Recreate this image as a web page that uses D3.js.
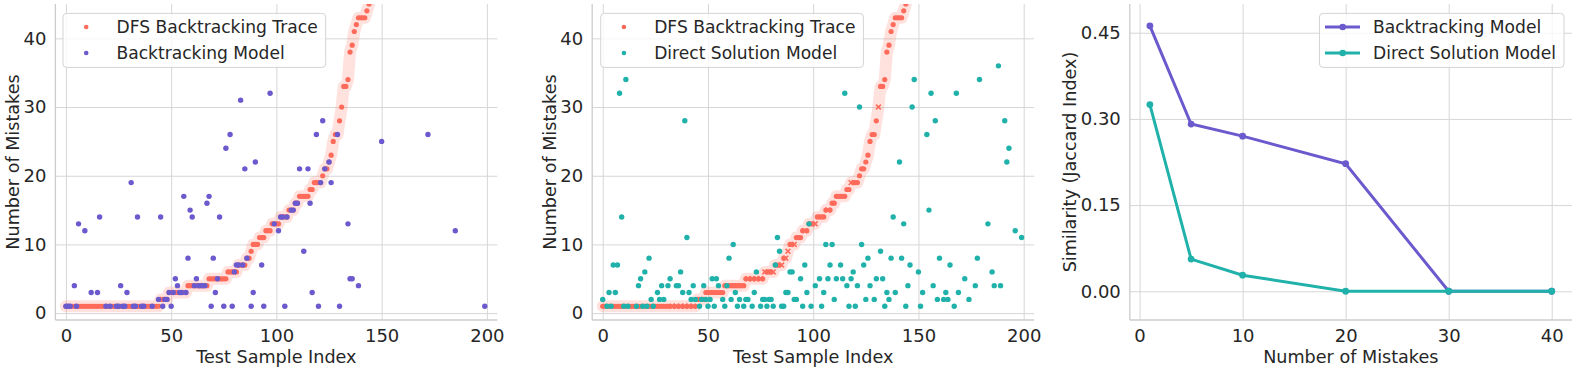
<!DOCTYPE html>
<html>
<head>
<meta charset="utf-8">
<script src="https://cdn.jsdelivr.net/npm/d3@7"></script>
<style>
  body { margin: 0; background: #fff; }
  svg { display: block; }
  text { font-family: 'DejaVu Sans', sans-serif; fill: #262626; }
</style>
</head>
<body>
<svg id="chart" width="1577" height="372"></svg>
<script>
// DFS backtracking trace, sorted, one value per test sample (values above 45 run off the axis)
const traceValues = [
  1, 1, 1, 1, 1, 1, 1, 1, 1, 1, 1, 1, 1, 1, 1, 1, 1, 1, 1, 1,
  1, 1, 1, 1, 1, 1, 1, 1, 1, 1, 1, 1, 1, 1, 1, 1, 1, 1, 1, 1,
  1, 1, 1, 1, 1, 2, 2, 2, 2, 3, 3, 3, 3, 3, 3, 3, 3, 3, 4, 4,
  4, 4, 4, 4, 4, 4, 4, 4, 5, 5, 5, 5, 5, 5, 5, 5, 5, 6, 6, 6,
  6, 6, 7, 7, 7, 7, 8, 8, 9, 10, 10, 10, 11, 11, 11, 12, 12, 12, 13, 13,
  13, 13, 14, 14, 14, 14, 15, 15, 15, 16, 16, 17, 17, 17, 17, 17, 18, 18, 19, 19,
  19, 19, 20, 21, 21, 22, 23, 25, 26, 26, 28, 30, 33, 33, 34, 38, 39, 41, 42, 43,
  43, 43, 43, 44, 45, 47, 49, 52, 55, 59, 63
]
// trace samples drawn with an x marker in the second panel
const traceCrossIdx = [33, 35, 37, 39, 41, 43, 69, 71, 73, 75, 77, 81, 85, 87, 88, 91, 96, 101, 107, 118, 131]

// Backtracking model: sample index / number of mistakes
const backtrackIdx = [
  0, 1, 2, 4, 5, 6, 9, 12, 15, 16, 19, 21, 24, 25, 26, 27, 28, 29, 31, 32,
  33, 34, 36, 37, 41, 44, 45, 46, 47, 48, 49, 50, 51, 52, 53, 54, 55, 56, 57, 58,
  59, 60, 61, 62, 63, 64, 65, 66, 67, 68, 69, 70, 71, 72, 73, 75, 76, 78, 79, 80,
  81, 82, 83, 84, 85, 86, 88, 89, 90, 93, 94, 97, 99, 101, 102, 103, 104, 105, 107, 108,
  109, 110, 111, 113, 115, 116, 117, 119, 120, 121, 122, 123, 125, 126, 129, 130, 134, 135, 136, 139,
  150, 172, 185, 199
]
const backtrackVal = [
  1, 1, 1, 4, 1, 13, 12, 3, 3, 14, 1, 1, 1, 1, 4, 1, 1, 3, 19, 1,
  1, 14, 1, 1, 1, 2, 14, 1, 2, 2, 3, 1, 3, 5, 4, 3, 3, 17, 3, 8,
  15, 14, 4, 5, 4, 4, 4, 4, 16, 17, 1, 8, 3, 5, 14, 1, 24, 26, 1, 6,
  7, 7, 31, 7, 21, 8, 1, 3, 22, 7, 1, 32, 13, 12, 14, 14, 1, 14, 15, 15,
  16, 16, 21, 9, 21, 16, 3, 26, 1, 19, 28, 21, 22, 19, 26, 1, 13, 5, 5, 4,
  25, 26, 12, 1
]

// Direct solution model: sample index / number of mistakes
const directIdx = [
  0, 2, 3, 4, 5, 6, 7, 8, 9, 10, 11, 12, 16, 17, 18, 19, 20, 21, 22, 23,
  24, 26, 27, 28, 29, 31, 32, 35, 36, 37, 38, 39, 40, 41, 42, 43, 44, 46, 47, 48,
  49, 50, 51, 52, 53, 54, 55, 57, 58, 59, 60, 61, 62, 63, 64, 65, 67, 68, 69, 71,
  72, 73, 75, 76, 77, 78, 79, 80, 81, 82, 83, 84, 85, 86, 87, 88, 89, 90, 91, 92,
  94, 95, 96, 97, 98, 99, 101, 103, 104, 105, 106, 107, 108, 109, 110, 111, 113, 114, 115, 116,
  117, 118, 119, 120, 121, 122, 123, 124, 125, 126, 127, 129, 130, 132, 133, 134, 135, 136, 137, 138,
  139, 141, 142, 143, 144, 145, 146, 147, 148, 150, 151, 152, 154, 155, 156, 157, 158, 159, 160, 162,
  163, 164, 165, 167, 168, 169, 172, 174, 177, 178, 179, 183, 185, 186, 188, 189, 191, 192, 193, 196,
  199
]
const directVal = [
  2, 1, 3, 1, 7, 3, 7, 32, 14, 1, 34, 1, 1, 4, 5, 1, 6, 1, 8, 2,
  1, 3, 2, 4, 2, 4, 5, 4, 4, 6, 3, 28, 11, 3, 2, 4, 2, 1, 2, 4,
  2, 1, 2, 5, 1, 5, 4, 2, 1, 4, 8, 2, 10, 3, 1, 2, 1, 2, 2, 1,
  3, 6, 1, 2, 2, 1, 2, 2, 1, 7, 11, 9, 1, 1, 3, 3, 6, 6, 2, 2,
  5, 1, 7, 3, 13, 1, 4, 5, 1, 3, 10, 5, 7, 10, 2, 5, 7, 5, 32, 4,
  1, 5, 6, 1, 4, 30, 10, 7, 2, 8, 4, 2, 5, 9, 5, 1, 3, 2, 8, 14,
  3, 22, 8, 13, 1, 4, 7, 30, 34, 6, 1, 3, 26, 15, 32, 4, 28, 2, 8, 2,
  3, 2, 7, 1, 32, 3, 5, 2, 4, 8, 34, 13, 6, 4, 36, 4, 28, 22, 24, 12,
  11
]

// Similarity vs number of mistakes
const mistakeLevels = [1, 5, 10, 20, 30, 40]
const backtrackSim = [0.462, 0.291, 0.270, 0.222, 0.0, 0.0]
const directSim = [0.325, 0.056, 0.028, 0.0, 0.0, 0.0]

const RED = '#ff6b5b'
const PURPLE = '#6a5acd'
const TEAL = '#20b2aa'
const TOP = 4
const BOTTOM = 320
const W = 442
const TICK_FONT = '18px'
const LABEL_FONT = '17.6px'
const LEGEND_FONT = '17.1px'

const svg = d3.select('#chart')

function makePanel (opt) {
  const g = svg.append('g')
  const x = d3.scaleLinear().domain(opt.xDomain).range([opt.left, opt.left + W])
  const y = d3.scaleLinear().domain(opt.yDomain).range([BOTTOM, TOP])

  // grid
  g.append('g')
    .attr('transform', `translate(0,${BOTTOM})`)
    .call(d3.axisBottom(x).tickValues(opt.xTicks).tickSize(-(BOTTOM - TOP)).tickFormat(''))
  g.append('g')
    .attr('transform', `translate(${opt.left},0)`)
    .call(d3.axisLeft(y).tickValues(opt.yTicks).tickSize(-W).tickFormat(''))
  g.selectAll('.domain').remove()
  g.selectAll('.tick line').attr('stroke', '#d6d6d6').attr('stroke-width', 1)

  // spines (left + bottom only)
  g.append('line')
    .attr('x1', opt.left).attr('x2', opt.left)
    .attr('y1', TOP).attr('y2', BOTTOM)
    .attr('stroke', '#cccccc').attr('stroke-width', 1.3)
  g.append('line')
    .attr('x1', opt.left).attr('x2', opt.left + W)
    .attr('y1', BOTTOM).attr('y2', BOTTOM)
    .attr('stroke', '#cccccc').attr('stroke-width', 1.3)

  // tick labels
  const xa = g.append('g')
    .attr('transform', `translate(0,${BOTTOM})`)
    .call(d3.axisBottom(x).tickValues(opt.xTicks).tickSize(0).tickPadding(9))
  const ya = g.append('g')
    .attr('transform', `translate(${opt.left},0)`)
    .call(d3.axisLeft(y).tickValues(opt.yTicks).tickSize(0).tickPadding(9).tickFormat(opt.yFormat || d3.format('d')))
  for (const a of [xa, ya]) {
    a.select('.domain').remove()
    a.selectAll('text')
      .attr('fill', '#262626')
      .style('font-size', TICK_FONT)
      .style('font-family', "'DejaVu Sans', sans-serif")
  }

  // axis labels
  g.append('text')
    .attr('x', opt.left + W / 2).attr('y', 363)
    .attr('text-anchor', 'middle')
    .style('font-size', LABEL_FONT)
    .text(opt.xLabel)
  g.append('text')
    .attr('transform', `translate(${opt.left - opt.yLabelGap},${(TOP + BOTTOM) / 2}) rotate(-90)`)
    .attr('text-anchor', 'middle')
    .style('font-size', LABEL_FONT)
    .text(opt.yLabel)

  const clipId = 'clip' + Math.round(opt.left)
  svg.append('clipPath').attr('id', clipId)
    .append('rect')
    .attr('x', opt.left).attr('y', TOP)
    .attr('width', W).attr('height', BOTTOM - TOP)
  const plot = svg.append('g').attr('clip-path', `url(#${clipId})`)
  return { x, y, plot }
}

function drawTrace (p, crosses) {
  const pts = traceValues.map((v, i) => [i, v])
  p.plot.append('path')
    .datum(pts)
    .attr('d', d3.line().x(d => p.x(d[0])).y(d => p.y(d[1])))
    .attr('fill', 'none')
    .attr('stroke', RED)
    .attr('stroke-opacity', 0.2)
    .attr('stroke-width', 12)
    .attr('stroke-linecap', 'round')
    .attr('stroke-linejoin', 'round')
  const dots = pts.filter(d => !crosses.includes(d[0]))
  p.plot.selectAll(null).data(dots).enter()
    .append('circle')
    .attr('cx', d => p.x(d[0]))
    .attr('cy', d => p.y(d[1]))
    .attr('r', 2.6)
    .attr('fill', RED)
  const xs = pts.filter(d => crosses.includes(d[0]))
  p.plot.selectAll(null).data(xs).enter()
    .append('path')
    .attr('d', d => {
      const cx = p.x(d[0]); const cy = p.y(d[1]); const s = 2.4
      return `M${cx - s},${cy - s}L${cx + s},${cy + s}M${cx - s},${cy + s}L${cx + s},${cy - s}`
    })
    .attr('stroke', RED)
    .attr('stroke-width', 1.6)
}

function drawScatter (p, idx, val, color) {
  p.plot.selectAll(null).data(idx.map((d, i) => [d, val[i]])).enter()
    .append('circle')
    .attr('cx', d => p.x(d[0]))
    .attr('cy', d => p.y(d[1]))
    .attr('r', 2.7)
    .attr('fill', color)
}

function legend (boxLeft, entries, kind, alignRight) {
  const g = svg.append('g')
  const box = g.append('rect')
  const texts = entries.map((e, i) => {
    const cy = 27 + i * 26
    if (kind === 'line') {
      g.append('line')
        .attr('x1', 6).attr('x2', 41).attr('y1', cy).attr('y2', cy)
        .attr('stroke', e.color).attr('stroke-width', 3)
      g.append('circle').attr('cx', 23.7).attr('cy', cy).attr('r', 3.3).attr('fill', e.color)
    } else {
      g.append('circle').attr('cx', 23.7).attr('cy', cy).attr('r', 2.3).attr('fill', e.color)
    }
    return g.append('text')
      .attr('x', 54).attr('y', cy).attr('dy', '0.35em')
      .style('font-size', LEGEND_FONT)
      .text(e.label)
  })
  const tw = d3.max(texts, t => t.node().getComputedTextLength())
  const bw = 54 + tw + 7.5
  box.attr('x', 0.5).attr('y', 13.4).attr('width', bw).attr('height', 54)
    .attr('rx', 3.5)
    .attr('fill', '#fff').attr('fill-opacity', 0.8)
    .attr('stroke', '#d4d4d4').attr('stroke-width', 1)
  const x0 = alignRight ? boxLeft - bw : boxLeft
  g.attr('transform', `translate(${x0},0)`)
}

// panel 1: DFS trace vs backtracking model
const p1 = makePanel({
  left: 55.4, xDomain: [-5, 205], yDomain: [-1, 45],
  xTicks: [0, 50, 100, 150, 200], yTicks: [0, 10, 20, 30, 40],
  xLabel: 'Test Sample Index', yLabel: 'Number of Mistakes', yLabelGap: 36
})
drawTrace(p1, [])
drawScatter(p1, backtrackIdx, backtrackVal, PURPLE)
legend(62.5, [{ label: 'DFS Backtracking Trace', color: RED }, { label: 'Backtracking Model', color: PURPLE }], 'dot')

// panel 2: DFS trace vs direct solution model
const p2 = makePanel({
  left: 592.2, xDomain: [-5, 205], yDomain: [-1, 45],
  xTicks: [0, 50, 100, 150, 200], yTicks: [0, 10, 20, 30, 40],
  xLabel: 'Test Sample Index', yLabel: 'Number of Mistakes', yLabelGap: 36
})
drawTrace(p2, traceCrossIdx)
drawScatter(p2, directIdx, directVal, TEAL)
legend(600.2, [{ label: 'DFS Backtracking Trace', color: RED }, { label: 'Direct Solution Model', color: TEAL }], 'dot')

// panel 3: similarity
const p3 = makePanel({
  left: 1129.8, xDomain: [-0.95, 41.95], yDomain: [-0.05, 0.5],
  xTicks: [0, 10, 20, 30, 40], yTicks: [0, 0.15, 0.30, 0.45], yFormat: d3.format('.2f'),
  xLabel: 'Number of Mistakes', yLabel: 'Similarity (Jaccard Index)', yLabelGap: 54
})
for (const s of [{ v: backtrackSim, c: PURPLE }, { v: directSim, c: TEAL }]) {
  const pts = mistakeLevels.map((m, i) => [m, s.v[i]])
  p3.plot.append('path')
    .datum(pts)
    .attr('d', d3.line().x(d => p3.x(d[0])).y(d => p3.y(d[1])))
    .attr('fill', 'none')
    .attr('stroke', s.c)
    .attr('stroke-width', 3)
  p3.plot.selectAll(null).data(pts).enter()
    .append('circle')
    .attr('cx', d => p3.x(d[0]))
    .attr('cy', d => p3.y(d[1]))
    .attr('r', 3.4)
    .attr('fill', s.c)
}
legend(1563.5, [{ label: 'Backtracking Model', color: PURPLE }, { label: 'Direct Solution Model', color: TEAL }], 'line', true)
</script>
</body>
</html>
